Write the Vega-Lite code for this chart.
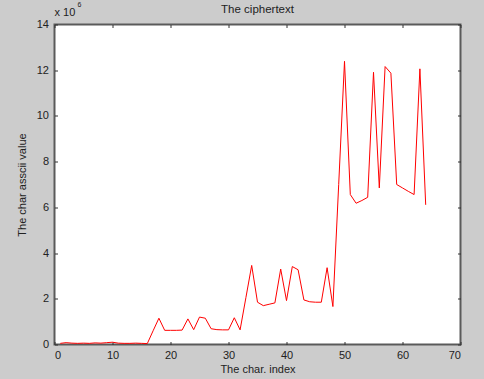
{
  "$schema": "https://vega.github.io/schema/vega-lite/v6.json",
  "width": 406,
  "height": 320,
  "autosize": {"type": "none"},
  "padding": {"left": 54.5, "top": 24.5, "right": 23.5, "bottom": 34.5},
  "background": "#cccccc",
  "title": {"text": "The ciphertext", "fontSize": 11.5, "fontWeight": "normal", "color": "#222222", "offset": -15, "anchor": "middle", "frame": "group", "font": "Liberation Sans"},
  "config": {
    "font": "Liberation Sans",
    "view": {"fill": "white", "stroke": "#5a5a5a", "strokeWidth": 2},
    "axis": {"grid": false, "domain": false, "offset": -3, "tickSize": 3, "tickWidth": 1, "tickColor": "#333333", "labelColor": "#222222", "labelFontSize": 11, "titleFontSize": 11, "titleFontWeight": "normal", "titleColor": "#222222"}
  },
  "datasets": {
    "cipher": [
      {"index": 1, "value": 0.05}, {"index": 2, "value": 0.08}, {"index": 3, "value": 0.06}, {"index": 4, "value": 0.05},
      {"index": 5, "value": 0.06}, {"index": 6, "value": 0.05}, {"index": 7, "value": 0.07}, {"index": 8, "value": 0.06},
      {"index": 9, "value": 0.08}, {"index": 10, "value": 0.1}, {"index": 11, "value": 0.06}, {"index": 12, "value": 0.05},
      {"index": 13, "value": 0.05}, {"index": 14, "value": 0.06}, {"index": 15, "value": 0.05}, {"index": 16, "value": 0.04},
      {"index": 17, "value": 0.6}, {"index": 18, "value": 1.15}, {"index": 19, "value": 0.62}, {"index": 20, "value": 0.62},
      {"index": 21, "value": 0.62}, {"index": 22, "value": 0.63}, {"index": 23, "value": 1.12}, {"index": 24, "value": 0.65},
      {"index": 25, "value": 1.2}, {"index": 26, "value": 1.15}, {"index": 27, "value": 0.69}, {"index": 28, "value": 0.65},
      {"index": 29, "value": 0.64}, {"index": 30, "value": 0.64}, {"index": 31, "value": 1.17}, {"index": 32, "value": 0.64},
      {"index": 33, "value": 2.05}, {"index": 34, "value": 3.46}, {"index": 35, "value": 1.85}, {"index": 36, "value": 1.7},
      {"index": 37, "value": 1.76}, {"index": 38, "value": 1.82}, {"index": 39, "value": 3.3}, {"index": 40, "value": 1.92},
      {"index": 41, "value": 3.41}, {"index": 42, "value": 3.27}, {"index": 43, "value": 1.95}, {"index": 44, "value": 1.87},
      {"index": 45, "value": 1.85}, {"index": 46, "value": 1.85}, {"index": 47, "value": 3.36}, {"index": 48, "value": 1.66},
      {"index": 49, "value": 7.0}, {"index": 50, "value": 12.39}, {"index": 51, "value": 6.56}, {"index": 52, "value": 6.18},
      {"index": 53, "value": 6.3}, {"index": 54, "value": 6.44}, {"index": 55, "value": 11.91}, {"index": 56, "value": 6.85},
      {"index": 57, "value": 12.16}, {"index": 58, "value": 11.87}, {"index": 59, "value": 7.0}, {"index": 60, "value": 6.85},
      {"index": 61, "value": 6.7}, {"index": 62, "value": 6.56}, {"index": 63, "value": 12.06}, {"index": 64, "value": 6.11}
    ],
    "exponent": [{"base": "x 10", "power": "6"}]
  },
  "layer": [
    {
      "data": {"name": "cipher"},
      "mark": {"type": "line", "color": "#ff0000", "strokeWidth": 1},
      "encoding": {
        "x": {"field": "index", "type": "quantitative", "scale": {"domain": [0, 70], "nice": false},
              "axis": {"orient": "bottom", "values": [0, 10, 20, 30, 40, 50, 60, 70], "labelPadding": 5, "title": "The char. index", "titlePadding": 3}},
        "y": {"field": "value", "type": "quantitative", "scale": {"domain": [0, 14], "nice": false},
              "axis": {"orient": "left", "values": [0, 2, 4, 6, 8, 10, 12, 14], "labelPadding": 6, "title": "The char  asscii value", "titlePadding": 9}}
      }
    },
    {
      "data": {"name": "cipher"},
      "mark": {"type": "line", "opacity": 0},
      "encoding": {
        "x": {"field": "index", "type": "quantitative", "axis": {"orient": "top", "values": [0, 10, 20, 30, 40, 50, 60, 70], "labels": false, "title": null, "maxExtent": 0, "minExtent": 0}},
        "y": {"field": "value", "type": "quantitative", "axis": {"orient": "right", "values": [0, 2, 4, 6, 8, 10, 12, 14], "labels": false, "title": null, "maxExtent": 0, "minExtent": 0}}
      }
    },
    {
      "data": {"name": "exponent"},
      "mark": {"type": "text", "align": "left", "baseline": "alphabetic", "dy": -9, "fontSize": 11, "color": "#222222"},
      "encoding": {"x": {"datum": 0, "axis": null}, "y": {"datum": 14, "axis": null}, "text": {"field": "base"}}
    },
    {
      "data": {"name": "exponent"},
      "mark": {"type": "text", "align": "left", "baseline": "alphabetic", "dx": 23, "dy": -18, "fontSize": 7, "color": "#222222"},
      "encoding": {"x": {"datum": 0, "axis": null}, "y": {"datum": 14, "axis": null}, "text": {"field": "power"}}
    }
  ],
  "resolve": {"axis": {"x": "independent", "y": "independent"}}
}
